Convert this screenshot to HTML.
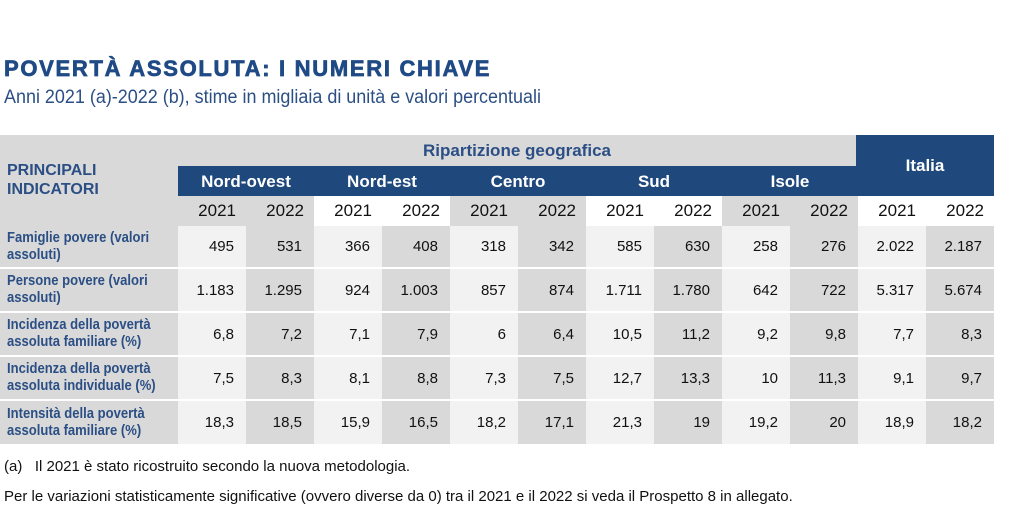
<!DOCTYPE html>
<html><head><meta charset="utf-8"><style>
body{margin:0;width:1024px;height:506px;background:#fff;position:relative;overflow:hidden;font-family:"Liberation Sans",sans-serif}
.a{position:absolute;box-sizing:border-box}
.t{left:4px;top:56px;font-weight:900;font-size:22px;color:#1f4a85;letter-spacing:1.7px;-webkit-text-stroke:0.7px #1f4a85}
.s{left:4px;top:87px;font-size:19px;color:#2b4f85;transform:scaleX(.945);transform-origin:left;white-space:nowrap}
.hd{color:#fff;font-weight:bold;font-size:17px;text-align:center}
.yr{font-size:17px;color:#111;text-align:right;padding-right:10px;line-height:30px}
.c{font-size:15px;color:#111;text-align:right;padding-right:12px;display:flex;align-items:center;justify-content:flex-end}
.lb{font-size:14.5px;font-weight:bold;color:#2b4f85;padding-left:7px;line-height:17px;display:flex;align-items:center;background:#d9d9d9;white-space:nowrap}
.lb span{display:inline-block;transform:scaleX(.9);transform-origin:left}
.f{font-size:15px;color:#111;white-space:nowrap}
</style></head><body>
<div class="a t">POVERTÀ ASSOLUTA: I NUMERI CHIAVE</div>
<div class="a s">Anni 2021 (a)-2022 (b), stime in migliaia di unità e valori percentuali</div>
<div class="a" style="left:0;top:135px;width:856px;height:91px;background:#d9d9d9"></div>
<div class="a" style="left:178px;top:135px;width:678px;height:31px;line-height:31px;text-align:center;color:#2b4f85;font-weight:bold;font-size:17px">Ripartizione geografica</div>
<div class="a" style="left:7px;top:161px;font-weight:bold;font-size:16px;color:#2b4f85;line-height:19px">PRINCIPALI<br>INDICATORI</div>
<div class="a hd" style="left:856px;top:135px;width:138px;height:61px;background:#1f487c;line-height:62px">Italia</div>
<div class="a" style="left:178px;top:166px;width:678px;height:30px;background:#1f487c"></div>
<div id="g"></div>
<div class="a f" style="left:4px;top:458px">(a)&nbsp;&nbsp; Il 2021 è stato ricostruito secondo la nuova metodologia.</div>
<div class="a f" style="left:4px;top:488px">Per le variazioni statisticamente significative (ovvero diverse da 0) tra il 2021 e il 2022 si veda il Prospetto 8 in allegato.</div>
<script>
var regs=["Nord-ovest","Nord-est","Centro","Sud","Isole"];
var labels=["Famiglie povere (valori<br>assoluti)","Persone povere (valori<br>assoluti)","Incidenza della povertà<br>assoluta familiare (%)","Incidenza della povertà<br>assoluta individuale (%)","Intensità della povertà<br>assoluta familiare (%)"];
var d=[["495","531","366","408","318","342","585","630","258","276","2.022","2.187"],
["1.183","1.295","924","1.003","857","874","1.711","1.780","642","722","5.317","5.674"],
["6,8","7,2","7,1","7,9","6","6,4","10,5","11,2","9,2","9,8","7,7","8,3"],
["7,5","8,3","8,1","8,8","7,3","7,5","12,7","13,3","10","11,3","9,1","9,7"],
["18,3","18,5","15,9","16,5","18,2","17,1","21,3","19","19,2","20","18,9","18,2"]];
var rows=[[226,269],[269,313],[313,357],[357,401],[401,444]];
var h="",W=68,X0=178;
for(var i=0;i<5;i++)h+='<div class="a hd" style="left:'+(X0+i*136)+'px;top:166px;width:136px;line-height:31px">'+regs[i]+'</div>';
for(var j=0;j<12;j++){var x=X0+j*W,bg=(Math.floor(j/2)%2==0)?"#d9d9d9":"#fff";
h+='<div class="a yr" style="left:'+x+'px;top:196px;width:'+W+'px;height:30px;background:'+bg+'">'+(j%2?"2022":"2021")+'</div>';}
for(var r=0;r<5;r++){var y=rows[r][0],hh=rows[r][1]-y-(r<4?2:0);
h+='<div class="a lb" style="left:0;top:'+y+'px;width:178px;height:'+hh+'px"><span>'+labels[r]+'</span></div>';
for(var j=0;j<12;j++)h+='<div class="a c" style="left:'+(X0+j*W)+'px;top:'+y+'px;width:'+W+'px;height:'+hh+'px;background:'+(j%2?"#d9d9d9":"#f2f2f2")+'">'+d[r][j]+'</div>';}
document.getElementById("g").innerHTML=h;
</script>
</body></html>
